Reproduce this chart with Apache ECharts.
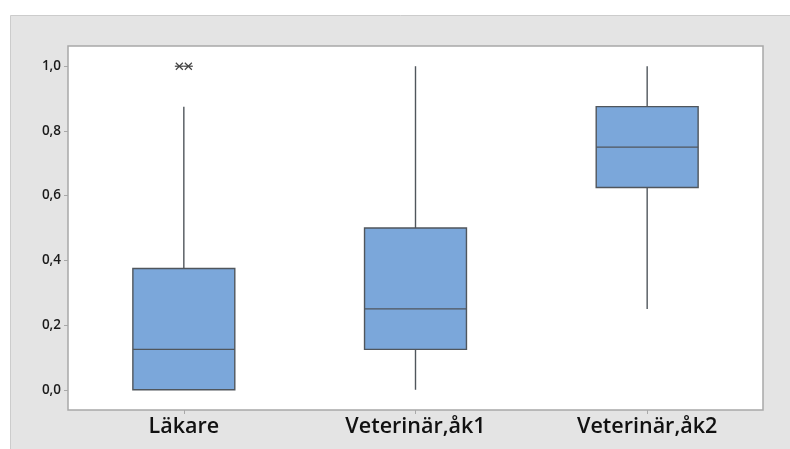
<!DOCTYPE html>
<html>
<head>
<meta charset="utf-8">
<script src="https://cdn.jsdelivr.net/npm/echarts@6/dist/echarts.min.js"></script>
<style>html,body{margin:0;padding:0;background:#fff;}#c{width:790px;height:449px;}</style>
</head>
<body>
<div id="c"></div>
<script>
var categories = ['Läkare', 'Veterinär,åk1', 'Veterinär,åk2'];
var whiskerLow = [0.0, 0.0, 0.25];
var q1 = [0.0, 0.125, 0.625];
var median = [0.125, 0.25, 0.75];
var q3 = [0.375, 0.5, 0.875];
var whiskerHigh = [0.875, 1.0, 1.0];
var outlierCategory = [0, 0];
var outlierValue = [1.0, 1.0];
var yTicks = [0, 0.2, 0.4, 0.6, 0.8, 1.0];

var boxData = categories.map(function (c, i) {
  return [i, whiskerLow[i], q1[i], median[i], q3[i], whiskerHigh[i]];
});
var outData = outlierValue.map(function (v, i) { return [outlierCategory[i], v]; });

var chart = echarts.init(document.getElementById('c'));
var lineCol = '#50565c';
chart.setOption({
  backgroundColor: '#ffffff',
  animation: false,
  graphic: [{
    type: 'rect', z: -10, silent: true,
    shape: { x: 10.5, y: 15.5, width: 790, height: 440 },
    style: { fill: '#e4e4e4', stroke: '#cccccc', lineWidth: 1 }
  }],
  grid: {
    left: 68, right: 27, top: 46, bottom: 39,
    show: true, backgroundColor: '#ffffff', borderColor: '#a8a8a8', borderWidth: 1.5
  },
  xAxis: {
    type: 'category', data: categories, boundaryGap: true,
    axisLine: { show: false, onZero: false },
    axisTick: { show: true, alignWithLabel: true, length: 4, lineStyle: { color: '#a8a8a8' } },
    axisLabel: { fontFamily: 'Open Sans', fontWeight: 600, fontSize: 21.5, color: '#111', margin: 6 },
    splitLine: { show: false }
  },
  yAxis: {
    type: 'value', min: -0.0625, max: 1.0625,
    axisLine: { show: false },
    axisTick: { show: true, length: 4, customValues: yTicks, lineStyle: { color: '#a8a8a8' } },
    axisLabel: {
      customValues: yTicks, fontFamily: 'Open Sans', fontWeight: 600, fontSize: 13.5, color: '#1a1a1a', margin: 7,
      formatter: function (v) { return v.toFixed(1).replace('.', ','); }
    },
    splitLine: { show: false }
  },
  series: [{
    type: 'custom',
    data: boxData,
    renderItem: function (params, api) {
      var ci = api.value(0);
      var bw = api.size([1, 0])[0] * 0.44;
      var pLo = api.coord([ci, api.value(1)]);
      var pQ1 = api.coord([ci, api.value(2)]);
      var pMed = api.coord([ci, api.value(3)]);
      var pQ3 = api.coord([ci, api.value(4)]);
      var pHi = api.coord([ci, api.value(5)]);
      var x = pQ1[0];
      var ls = { stroke: lineCol, lineWidth: 1.4 };
      return {
        type: 'group',
        children: [
          { type: 'line', shape: { x1: x, y1: pHi[1], x2: x, y2: pQ3[1] }, style: ls },
          { type: 'line', shape: { x1: x, y1: pQ1[1], x2: x, y2: pLo[1] }, style: ls },
          { type: 'rect', shape: { x: x - bw / 2, y: pQ3[1], width: bw, height: pQ1[1] - pQ3[1] },
            style: { fill: '#7ba7da', stroke: lineCol, lineWidth: 1.4 } },
          { type: 'line', shape: { x1: x - bw / 2, y1: pMed[1], x2: x + bw / 2, y2: pMed[1] }, style: ls }
        ]
      };
    }
  }, {
    type: 'custom',
    data: outData,
    renderItem: function (params, api) {
      var ci = api.value(0), v = api.value(1);
      var same = [], k = 0;
      for (var i = 0; i < outData.length; i++) {
        if (outData[i][0] === ci && outData[i][1] === v) {
          if (i < params.dataIndex) k++;
          same.push(i);
        }
      }
      var n = same.length;
      var p = api.coord([ci, v]);
      var cx = p[0] + (k - (n - 1) / 2) * 9, cy = p[1];
      var r = 4.5, d = 3.5;
      var st = { stroke: '#444', lineWidth: 1.2 };
      return {
        type: 'group',
        children: [
          { type: 'line', shape: { x1: cx - r, y1: cy, x2: cx + r, y2: cy }, style: st },
          { type: 'line', shape: { x1: cx - d, y1: cy - d, x2: cx + d, y2: cy + d }, style: st },
          { type: 'line', shape: { x1: cx - d, y1: cy + d, x2: cx + d, y2: cy - d }, style: st }
        ]
      };
    }
  }]
});
</script>
</body>
</html>
